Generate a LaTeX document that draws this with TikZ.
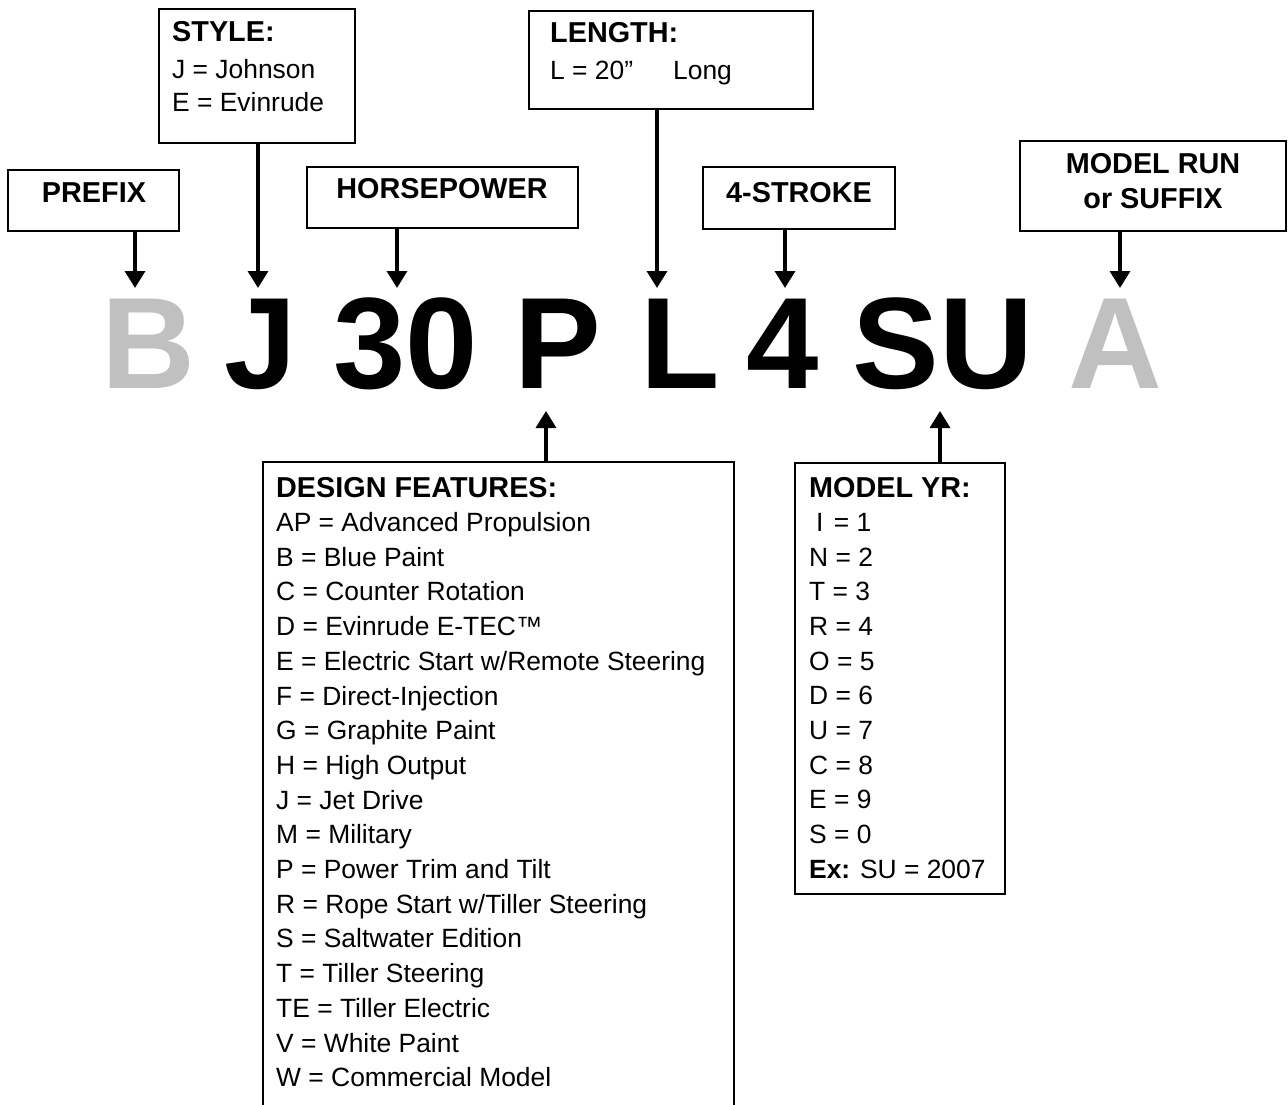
\documentclass[tikz,border=0pt]{standalone}
\usepackage{fontspec}
\setmainfont{Liberation Sans}
\usetikzlibrary{arrows.meta}
\definecolor{lightgrey}{HTML}{C0C0C0}
\begin{document}
\begin{tikzpicture}[x=1pt,y=-1pt,
  box/.style={draw,line width=2.2pt,inner sep=0pt},
  arr/.style={line width=3.4pt,-{Triangle[length=17pt,width=20pt]}},
  lbl/.style={anchor=base west,inner sep=0pt,font=\fontsize{26.4}{30}\selectfont},
  ttl/.style={anchor=base west,inner sep=0pt,font=\fontsize{28.8}{32}\selectfont\bfseries},
  ctl/.style={anchor=base,inner sep=0pt,font=\fontsize{28.8}{32}\selectfont\bfseries},
  big/.style={anchor=base,inner sep=0pt,font=\fontsize{130}{130}\selectfont\bfseries}]
\useasboundingbox (0,0) rectangle (1288,1105);

% ---------- top boxes ----------
\node[box,anchor=north west,minimum width=196pt,minimum height=134pt] (style) at (158,8) {};
\node[ttl] (styleT) at (172,42) {STYLE:};
\node[lbl] (styleJ) at (172,78.5) {J = Johnson};
\node[lbl] (styleE) at (172,111.5) {E = Evinrude};

\node[box,anchor=north west,minimum width=171pt,minimum height=61pt] (prefix) at (7,169) {};
\node[ctl] (prefixT) at (94,202) {PREFIX};

\node[box,anchor=north west,minimum width=271pt,minimum height=61pt] (hp) at (306,166) {};
\node[ctl] (hpT) at (442,198) {HORSEPOWER};

\node[box,anchor=north west,minimum width=284pt,minimum height=98pt] (len) at (528,10) {};
\node[ttl] (lenT) at (550,43) {LENGTH:};
\node[lbl] (lenL) at (550,79.5) {L = 20”};
\node[lbl] (lenLong) at (673,79.5) {Long};

\node[box,anchor=north west,minimum width=192pt,minimum height=62pt] (four) at (702,166) {};
\node[ctl] (fourT) at (799,202) {4-STROKE};

\node[box,anchor=north west,minimum width=266pt,minimum height=90pt] (run) at (1019,140) {};
\node[ctl] (runT1) at (1153,173) {MODEL RUN};
\node[ctl] (runT2) at (1153,208) {or SUFFIX};

% ---------- arrow tips ----------
\coordinate (tB) at (135,288);
\coordinate (tJ) at (258,288);
\coordinate (t30) at (397,288);
\coordinate (tL) at (657,288);
\coordinate (t4) at (785,288);
\coordinate (tA) at (1120,288);
\draw[arr] (prefix.south -| tB) -- (tB);
\draw[arr] (style.south -| tJ) -- (tJ);
\draw[arr] (hp.south -| t30) -- (t30);
\draw[arr] (len.south -| tL) -- (tL);
\draw[arr] (four.south -| t4) -- (t4);
\draw[arr] (run.south -| tA) -- (tA);

% ---------- big code ----------
\node[big,text=lightgrey] (bigB) at (148,388) {B};
\node[big] (bigJ) at (261,388) {J};
\node[big] (big30) at (406,388) {30};
\node[big] (bigP) at (558,388) {P};
\node[big] (bigL) at (680,388) {L};
\node[big] (big4) at (783,388) {4};
\node[big] (bigSU) at (943,388) {SU};
\node[big,text=lightgrey] (bigA) at (1115,388) {A};

% ---------- design features ----------
\coordinate (dfSW) at (263,1106);
\coordinate (dfNW) at (263,462);
\coordinate (dfNE) at (734,462);
\coordinate (dfSE) at (734,1106);
\draw[line width=2.2pt] (dfSW) -- (dfNW) -- (dfNE) -- (dfSE);
\coordinate (tP) at (546,411);
\draw[arr] (dfNW -| tP) -- (tP);
\node[ttl] (dfT) at (276,497) {DESIGN FEATURES:};
\foreach \t [count=\i from 0] in {AP = Advanced Propulsion, B = Blue Paint, C = Counter Rotation,
  D = Evinrude E-TEC™, E = Electric Start w/Remote Steering, F = Direct-Injection,
  G = Graphite Paint, H = High Output, J = Jet Drive, M = Military,
  P = Power Trim and Tilt, R = Rope Start w/Tiller Steering, S = Saltwater Edition,
  T = Tiller Steering, TE = Tiller Electric, V = White Paint, W = Commercial Model}
  \node[lbl] (df\i) at (276,531.5+34.7*\i) {\t};

% ---------- model year ----------
\node[box,anchor=north west,minimum width=210pt,minimum height=431pt] (myr) at (794,462) {};
\coordinate (tSU) at (940,411);
\draw[arr] (myr.north -| tSU) -- (tSU);
\node[ttl] (myrT) at (809,497) {MODEL YR:};
\foreach \t [count=\i from 0] in {\hspace{7pt}I\hspace{3pt} = 1, N = 2, T = 3, R = 4, O = 5, D = 6,
  U = 7, C = 8, E = 9, S = 0}
  \node[lbl] (my\i) at (809,531.5+34.65*\i) {\t};
\node[lbl] (myEx) at (809,878) {\textbf{Ex:} SU = 2007};
\end{tikzpicture}
\end{document}
